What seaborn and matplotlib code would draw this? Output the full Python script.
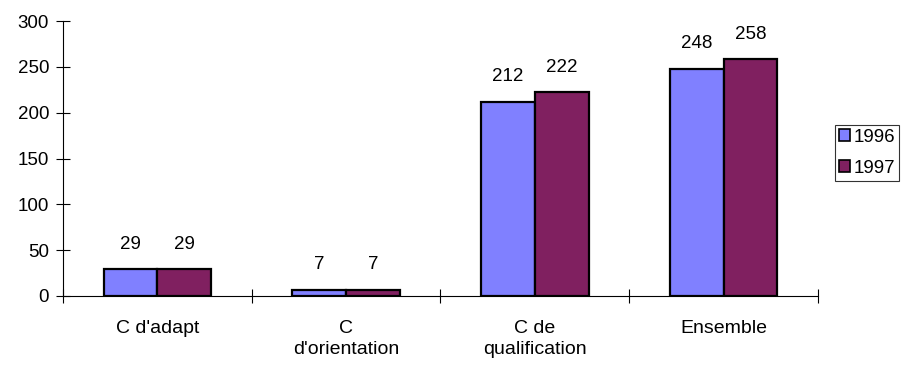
import matplotlib
matplotlib.use("Agg")
import matplotlib.pyplot as plt
import pandas as pd
import seaborn as sns

# ── Data ─────────────────────────────────────────────────────────────────────
categories = ["C d'adapt", "C\nd'orientation", "C de\nqualification", "Ensemble"]
years = ["1996", "1997"]
values_1996 = [29, 7, 212, 248]
values_1997 = [29, 7, 222, 258]
colors = ["#8080FF", "#802060"]

df = pd.DataFrame({
    "cat": categories * 2,
    "year": [years[0]] * 4 + [years[1]] * 4,
    "value": values_1996 + values_1997,
})

sns.set_style("white", {"text.color": "black", "xtick.color": "black",
                        "ytick.color": "black", "axes.edgecolor": "black"})
plt.rcParams["font.family"] = ["Liberation Sans", "DejaVu Sans"]
FS = 14

fig = plt.figure(figsize=(9.12, 3.67), dpi=100)
ax = fig.add_axes([63 / 912, 1 - 296 / 367, (818 - 63) / 912, (296 - 21) / 367])

sns.barplot(
    data=df, x="cat", y="value", hue="year", palette=colors,
    width=0.57, edgecolor="black", linewidth=1.6, saturation=1, ax=ax,
)

for cont in ax.containers:
    ax.bar_label(cont, padding=12, fontsize=FS - 0.5)

ax.set_ylim(0, 300)
ax.set_xlim(-0.5, 3.5)
ax.set_yticks(range(0, 301, 50))
ax.set_xlabel("")
ax.set_ylabel("")

# tick marks at category boundaries, labels at centres
ax.set_xticks([-0.5, 0.5, 1.5, 2.5, 3.5])
ax.set_xticklabels([])
ax.set_xticks([0, 1, 2, 3], minor=True)
ax.set_xticklabels(categories, minor=True, fontsize=FS, linespacing=1.35)
ax.tick_params(axis="x", which="minor", bottom=True, length=0, pad=17)
ax.tick_params(axis="x", which="major", bottom=True, direction="inout",
               length=10, width=0.8, color="black")
ax.tick_params(axis="y", left=True, direction="inout", length=10, width=0.8,
               color="black", labelsize=FS - 0.5, pad=5)

for side in ["top", "right"]:
    ax.spines[side].set_visible(False)
for side in ["left", "bottom"]:
    ax.spines[side].set_color("black")
    ax.spines[side].set_linewidth(0.8)

leg = ax.legend(
    loc="upper left", bbox_to_anchor=(835 / 912, 1 - 125 / 367),
    bbox_transform=fig.transFigure, frameon=True, fancybox=False,
    fontsize=FS - 0.5, handlelength=0.6, handleheight=0.6, handletextpad=0.2,
    labelspacing=0.75, borderpad=0.2, borderaxespad=0,
)
leg.get_frame().set_edgecolor("black")
leg.get_frame().set_linewidth(0.8)
for h in leg.legend_handles:
    h.set_edgecolor("black")
    h.set_linewidth(1.2)

fig.savefig("out.png", dpi=100)
